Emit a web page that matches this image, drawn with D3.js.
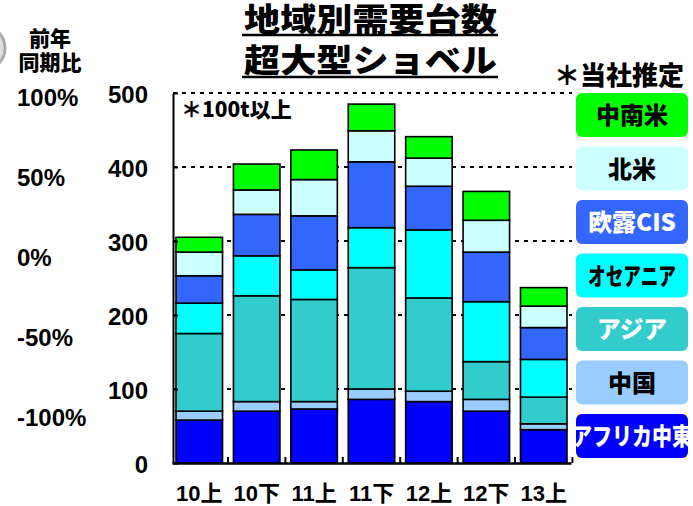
<!DOCTYPE html>
<html>
<head>
<meta charset="utf-8">
<script src="https://cdn.jsdelivr.net/npm/d3@7"></script>
<style>
  body { margin: 0; background: #fff; }
  text { font-family: "Liberation Sans", "Noto Sans CJK JP", sans-serif; font-weight: bold; }
  .jp { font-family: "Noto Sans CJK JP", sans-serif; font-weight: 900; }
</style>
</head>
<body>
<div id="chart"></div>
<script>
// Data
var categories = ['10上', '10下', '11上', '11下', '12上', '12下', '13上'];
var africaMiddleEast = [58, 70, 73, 86, 83, 70, 45];
var china = [12, 13, 10, 14, 14, 16, 8];
var asia = [105, 143, 138, 164, 126, 51, 36];
var oceania = [41, 54, 40, 54, 92, 81, 51];
var europeCis = [37, 56, 73, 89, 59, 67, 43];
var northAmerica = [32, 33, 49, 42, 38, 43, 29];
var southAmerica = [20, 35, 40, 36, 29, 39, 25];
var seriesNames = ['アフリカ中東', '中国', 'アジア', 'オセアニア', '欧露CIS', '北米', '中南米'];
var yTicks = [0, 100, 200, 300, 400, 500];
var pctTicks = [100, 50, 0, -50, -100];

var colors = ['#0000FF', '#99CCFF', '#33CCCC', '#00FFFF', '#3366FF', '#CCFFFF', '#00FF00'];
var labelColors = ['#fff', '#000', '#fff', '#000', '#fff', '#000', '#000'];
// squeezed label widths for the long kana names (null = natural width)
var labelWidths = [120, null, 70, 88, null, null, null];

var W = 693, H = 506;
var chart = d3.select('#chart').append('svg')
    .attr('width', W)
    .attr('height', H);

// build rows for the stack
var seriesArrays = [africaMiddleEast, china, asia, oceania, europeCis, northAmerica, southAmerica];
var rows = categories.map(function(c, i) {
    var r = {cat: c};
    seriesNames.forEach(function(s, k) { r[s] = seriesArrays[k][i]; });
    return r;
});
var stacked = d3.stack().keys(seriesNames)(rows);

// Scales
var xScale = d3.scaleBand()
    .domain(categories)
    .range([172, 571])
    .paddingInner(0.19)
    .paddingOuter(0.07);
var yScale = d3.scaleLinear()
    .domain([0, 500])
    .range([463, 93]);
var pScale = d3.scaleLinear()
    .domain([-100, 100])
    .range([418, 98]);

// decorative grey circle top-left
chart.append('circle')
    .attr('cx', -17).attr('cy', 48).attr('r', 22)
    .style('fill', '#ddd').style('stroke', '#aaa').style('stroke-width', 3);

// Gridlines
chart.append('g').selectAll('line')
    .data(yTicks.filter(function(d) { return d > 0; }))
    .enter().append('line')
    .attr('x1', 173).attr('x2', 572)
    .attr('y1', function(d) { return yScale(d); })
    .attr('y2', function(d) { return yScale(d); })
    .style('stroke', '#000').style('stroke-width', 2)
    .style('stroke-dasharray', '4,5');

// Bars
var layer = chart.append('g').selectAll('g')
    .data(stacked)
    .enter().append('g')
    .style('fill', function(d, i) { return colors[i]; });
layer.selectAll('rect')
    .data(function(d) { return d; })
    .enter().append('rect')
    .attr('x', function(d) { return xScale(d.data.cat); })
    .attr('y', function(d) { return yScale(d[1]); })
    .attr('width', xScale.bandwidth())
    .attr('height', function(d) { return yScale(d[0]) - yScale(d[1]); })
    .style('stroke', '#000').style('stroke-width', 1.6);

// Left value axis
var yAxis = chart.append('g')
    .attr('transform', 'translate(173,0)')
    .call(d3.axisLeft(yScale).tickValues(yTicks).tickSizeInner(-5).tickSizeOuter(0).tickPadding(25));
yAxis.select('.domain').style('stroke', '#000').style('stroke-width', 2);
yAxis.selectAll('line').style('stroke', '#000').style('stroke-width', 2);
yAxis.selectAll('text')
    .style('font-size', '24px').style('font-family', 'Liberation Sans').style('font-weight', 'bold')
    .attr('dy', '0.38em');

// Bottom axis
var xAxis = chart.append('g')
    .attr('transform', 'translate(0,463)')
    .call(d3.axisBottom(xScale).tickSize(0).tickPadding(22));
xAxis.select('.domain').style('stroke', '#000').style('stroke-width', 2.5);
xAxis.selectAll('text')
    .style('font-size', '22px').style('font-family', 'Liberation Sans, Noto Sans CJK JP').style('font-weight', 'bold');
// tick marks between bands
var step = xScale.step();
chart.append('g').selectAll('line')
    .data(categories)
    .enter().append('line')
    .attr('x1', function(d) { return xScale(d) + xScale.bandwidth() + (step - xScale.bandwidth()) / 2; })
    .attr('x2', function(d) { return xScale(d) + xScale.bandwidth() + (step - xScale.bandwidth()) / 2; })
    .attr('y1', 463).attr('y2', 457)
    .style('stroke', '#000').style('stroke-width', 2);

// Percent labels (secondary scale, no series)
chart.append('g').selectAll('text')
    .data(pctTicks)
    .enter().append('text')
    .attr('x', 17)
    .attr('y', function(d) { return pScale(d) + 8; })
    .style('font-size', '24px')
    .text(function(d) { return (d < 0 ? '-' : '') + Math.abs(d) + '%'; });

chart.append('text').attr('class', 'jp')
    .attr('x', 50).attr('y', 46).attr('text-anchor', 'middle')
    .style('font-size', '21px').text('前年');
chart.append('text').attr('class', 'jp')
    .attr('x', 50).attr('y', 70).attr('text-anchor', 'middle')
    .style('font-size', '21px').text('同期比');

// Title
var titles = [['地域別需要台数', 31, 35], ['超大型ショベル', 72, 77]];
titles.forEach(function(t) {
    chart.append('text').attr('class', 'jp')
        .attr('x', 244).attr('y', t[1])
        .attr('textLength', 253).attr('lengthAdjust', 'spacingAndGlyphs')
        .style('font-size', '32px')
        .text(t[0]);
    chart.append('line')
        .attr('x1', 242).attr('x2', 498)
        .attr('y1', t[2]).attr('y2', t[2])
        .style('stroke', '#000').style('stroke-width', 2.5);
});

chart.append('text').attr('class', 'jp')
    .attr('x', 554).attr('y', 85)
    .style('font-size', '26px').text('＊当社推定');

chart.append('text').attr('class', 'jp')
    .attr('x', 181).attr('y', 117)
    .style('font-size', '21px').text('＊100t以上');

// Legend
var legend = chart.append('g');
var legendOrder = d3.range(seriesNames.length).reverse();
legendOrder.forEach(function(k, j) {
    var ly = 93 + j * 53.5;
    var clipId = 'clip' + j;
    chart.append('clipPath').attr('id', clipId)
        .append('rect').attr('x', 576).attr('y', ly).attr('width', 112).attr('height', 44).attr('rx', 6);
    legend.append('rect')
        .attr('x', 576).attr('y', ly)
        .attr('width', 112).attr('height', 44)
        .attr('rx', 6).attr('ry', 6)
        .style('fill', colors[k]);
    var t = legend.append('text').attr('class', 'jp')
        .attr('clip-path', 'url(#' + clipId + ')')
        .attr('x', 632).attr('y', ly + 31)
        .attr('text-anchor', 'middle')
        .style('font-size', '24px')
        .style('fill', labelColors[k])
        .text(seriesNames[k]);
    if (labelWidths[k]) {
        t.attr('textLength', labelWidths[k]).attr('lengthAdjust', 'spacingAndGlyphs');
    }
});
</script>
</body>
</html>
